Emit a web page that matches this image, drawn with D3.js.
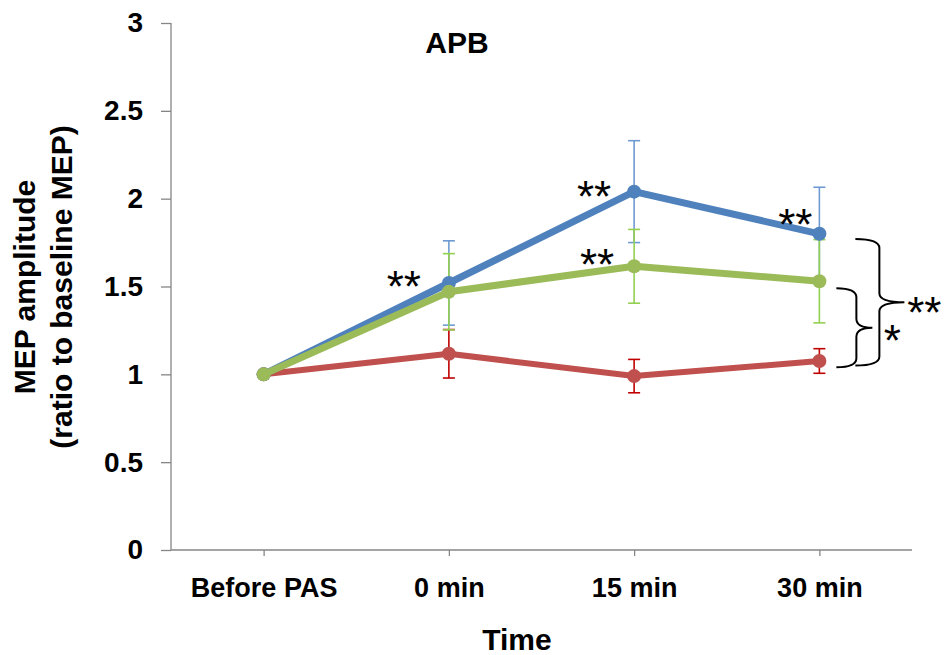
<!DOCTYPE html>
<html>
<head>
<meta charset="utf-8">
<script src="https://cdn.jsdelivr.net/npm/d3@7"></script>
<style>
  html, body { margin: 0; padding: 0; background: #fff; }
  svg { display: block; font-family: "Liberation Sans", Arial, sans-serif; }
</style>
</head>
<body>
<svg id="chart" width="944" height="655"></svg>
<script>
// ---- data ----
const categories = ["Before PAS", "0 min", "15 min", "30 min"];
const blueValues  = [1.00, 1.52, 2.04, 1.80];
const blueErrors  = [0, 0.24, 0.29, 0.265];
const greenValues = [1.00, 1.47, 1.615, 1.53];
const greenErrors = [0, 0.217, 0.21, 0.237];
const redValues   = [1.00, 1.117, 0.99, 1.076];
const redErrors   = [0, 0.138, 0.095, 0.07];
const yTicks = [0, 0.5, 1, 1.5, 2, 2.5, 3];
const yTickLabels = ["0", "0.5", "1", "1.5", "2", "2.5", "3"];
const titleText = "APB";
const xTitle = "Time";
const yTitle1 = "MEP amplitude";
const yTitle2 = "(ratio to baseline MEP)";
// significance annotations: text, category, horizontal offset, y value
const starLabels = ["**", "**", "**", "**", "**", "*"];
const starCats   = ["0 min", "15 min", "15 min", "30 min", "30 min", "30 min"];
const starDx     = [-45, -40, -37, -24, 105, 73];
const starValues = [1.554, 2.066, 1.679, 1.907, 1.406, 1.247];
// brackets between groups at 30 min: [top value, bottom value]
const bracketRanges = [[1.77, 1.05], [1.49, 1.04]];

// ---- layout ----
const svg = d3.select("#chart");
const mLeft = 171, mRight = 912, mTop = 23, mBottom = 550;
const x = d3.scalePoint().domain(categories).range([mLeft, mRight]).padding(0.5);
const y = d3.scaleLinear().domain([0, 3]).range([mBottom, mTop]);

const series = [
  { name: "red",   values: redValues,   errors: redErrors,   color: "#c0504d", errColor: "#c00000", width: 6 },
  { name: "blue",  values: blueValues,  errors: blueErrors,  color: "#4f81bd", errColor: "#6e9ad3", width: 7 },
  { name: "green", values: greenValues, errors: greenErrors, color: "#9bbb59", errColor: "#92d050", width: 7 }
];

// axes
const axisColor = "#868686";
const yAxis = svg.append("g").attr("transform", `translate(${mLeft},0)`)
  .call(d3.axisLeft(y).tickValues(yTicks).tickSize(10).tickPadding(18)
    .tickFormat((d, i) => yTickLabels[i]));
yAxis.select(".domain").attr("stroke", axisColor).attr("stroke-width", 1.3).attr("d", `M0,${mTop}V${mBottom}`);
yAxis.selectAll(".tick line").attr("stroke", axisColor).attr("stroke-width", 1.3);
yAxis.selectAll(".tick text").attr("fill", "#000").attr("font-size", 28).attr("font-weight", "bold")
  .attr("font-family", "Liberation Sans, Arial, sans-serif");

const xAxis = svg.append("g").attr("transform", `translate(0,${mBottom})`)
  .call(d3.axisBottom(x).tickSize(6).tickPadding(22));
xAxis.select(".domain").attr("stroke", axisColor).attr("stroke-width", 1.3).attr("d", `M${mLeft},0H${mRight}`);
xAxis.selectAll(".tick line").attr("stroke", axisColor).attr("stroke-width", 1.3);
xAxis.selectAll(".tick text").attr("fill", "#000").attr("font-size", 27).attr("font-weight", "bold")
  .attr("font-family", "Liberation Sans, Arial, sans-serif");

// error bars
const capHalf = 6;
series.forEach(s => {
  const g = svg.append("g").attr("stroke", s.errColor).attr("stroke-width", 1.6).attr("fill", "none");
  categories.forEach((c, i) => {
    if (!s.errors[i]) return;
    const cx = x(c), y1 = y(s.values[i] + s.errors[i]), y0 = y(s.values[i] - s.errors[i]);
    g.append("line").attr("x1", cx).attr("x2", cx).attr("y1", y1).attr("y2", y0);
    g.append("line").attr("x1", cx - capHalf).attr("x2", cx + capHalf).attr("y1", y1).attr("y2", y1);
    g.append("line").attr("x1", cx - capHalf).attr("x2", cx + capHalf).attr("y1", y0).attr("y2", y0);
  });
});

// lines and markers
const line = d3.line().x((d, i) => x(categories[i])).y(d => y(d));
series.forEach(s => {
  svg.append("path").datum(s.values)
    .attr("d", line).attr("fill", "none").attr("stroke", s.color)
    .attr("stroke-width", s.width).attr("stroke-linejoin", "round").attr("stroke-linecap", "round");
  svg.append("g").selectAll("circle").data(s.values).join("circle")
    .attr("cx", (d, i) => x(categories[i])).attr("cy", d => y(d)).attr("r", 7)
    .attr("fill", s.color);
});

// significance stars
const starSize = 44;
starLabels.forEach((t, i) => {
  svg.append("text")
    .attr("x", x(starCats[i]) + starDx[i])
    .attr("y", y(starValues[i]) + 0.573 * starSize)
    .attr("text-anchor", "middle")
    .attr("font-size", starSize)
    .attr("fill", "#000")
    .text(t);
});

// brackets (curly braces)
const braceGeom = [
  { x0: x("30 min") + 36, xv: x("30 min") + 60, xt: x("30 min") + 85 },
  { x0: x("30 min") + 17, xv: x("30 min") + 37, xt: x("30 min") + 53 }
];
bracketRanges.forEach((r, i) => {
  const { x0, xv, xt } = braceGeom[i];
  const y0 = y(r[0]), y1 = y(r[1]), ym = (y0 + y1) / 2, rr = 9;
  const p = d3.path();
  p.moveTo(x0, y0);
  p.quadraticCurveTo(xv, y0, xv, y0 + rr);
  p.lineTo(xv, ym - rr);
  p.quadraticCurveTo(xv, ym, xt, ym);
  p.moveTo(xt, ym);
  p.quadraticCurveTo(xv, ym, xv, ym + rr);
  p.lineTo(xv, y1 - rr);
  p.quadraticCurveTo(xv, y1, x0, y1);
  svg.append("path").attr("d", p.toString()).attr("fill", "none")
    .attr("stroke", "#000").attr("stroke-width", 2);
});

// titles
svg.append("text").attr("x", 457).attr("y", 53).attr("text-anchor", "middle")
  .attr("font-size", 30).attr("font-weight", "bold").text(titleText);
svg.append("text").attr("x", 517).attr("y", 650).attr("text-anchor", "middle")
  .attr("font-size", 30).attr("font-weight", "bold").text(xTitle);
svg.append("text").attr("transform", "translate(35,287) rotate(-90)").attr("text-anchor", "middle")
  .attr("font-size", 30).attr("font-weight", "bold").text(yTitle1);
svg.append("text").attr("transform", "translate(72,287) rotate(-90)").attr("text-anchor", "middle")
  .attr("font-size", 30).attr("font-weight", "bold").text(yTitle2);
</script>
</body>
</html>
